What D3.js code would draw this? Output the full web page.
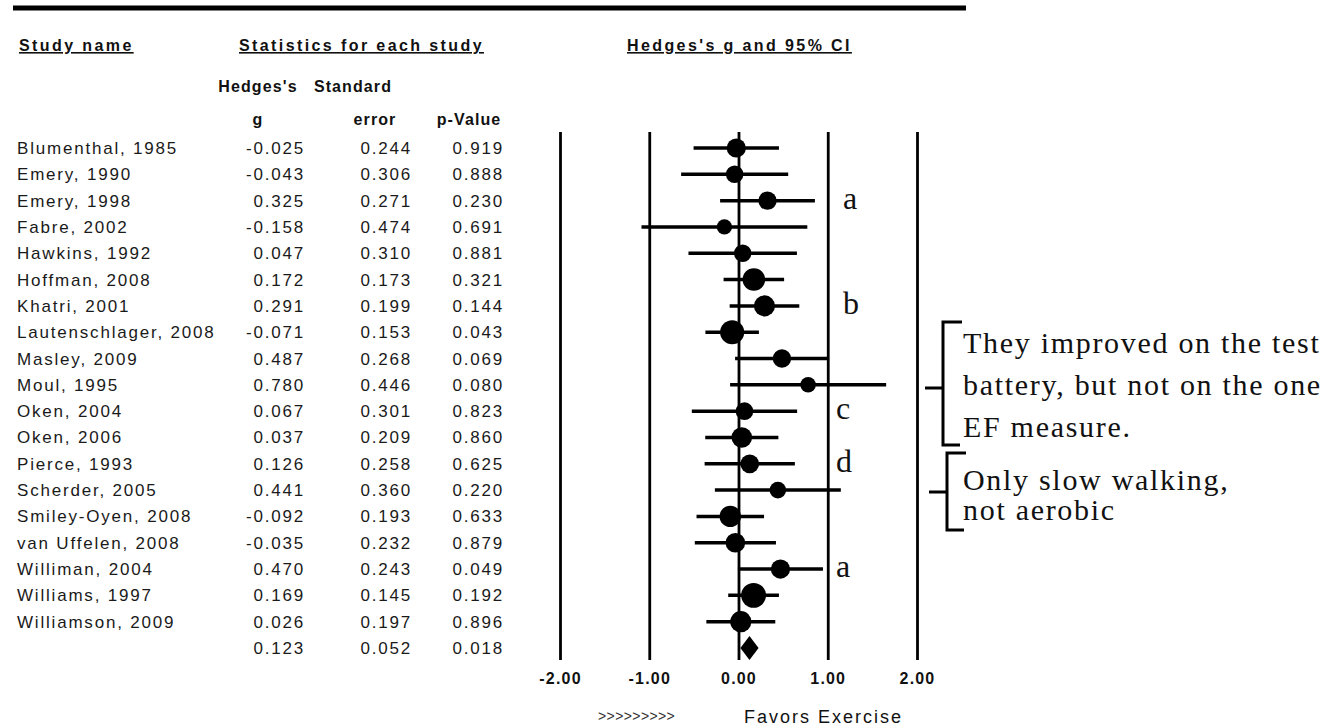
<!DOCTYPE html>
<html>
<head>
<meta charset="utf-8">
<script src="https://cdn.jsdelivr.net/npm/d3@7"></script>
<style>
  body { margin: 0; background: #fff; }
  svg { display: block; }
  .tbl { font-family: "Liberation Sans", Arial, sans-serif; font-size: 17px; fill: #1a1a1a; letter-spacing: 1.8px; }
  .hdr { font-family: "Liberation Sans", Arial, sans-serif; font-size: 16px; font-weight: bold; fill: #111; letter-spacing: 2.4px; text-decoration: underline; }
  .sub { font-family: "Liberation Sans", Arial, sans-serif; font-size: 16px; font-weight: bold; fill: #111; letter-spacing: 1.1px; }
  .note { font-family: "Liberation Serif", "Times New Roman", serif; font-size: 30px; fill: #111; letter-spacing: 1.7px; }
  .tag { font-family: "Liberation Serif", "Times New Roman", serif; font-size: 32px; fill: #111; }
</style>
</head>
<body>
<div id="chart"></div>
<script>
// study rows
var studies = ["Blumenthal, 1985", "Emery, 1990", "Emery, 1998", "Fabre, 2002", "Hawkins, 1992",
  "Hoffman, 2008", "Khatri, 2001", "Lautenschlager, 2008", "Masley, 2009", "Moul, 1995",
  "Oken, 2004", "Oken, 2006", "Pierce, 1993", "Scherder, 2005", "Smiley-Oyen, 2008",
  "van Uffelen, 2008", "Williman, 2004", "Williams, 1997", "Williamson, 2009"];
var hedgesG = [-0.025, -0.043, 0.325, -0.158, 0.047, 0.172, 0.291, -0.071, 0.487, 0.780,
  0.067, 0.037, 0.126, 0.441, -0.092, -0.035, 0.470, 0.169, 0.026];
var stdErr = [0.244, 0.306, 0.271, 0.474, 0.310, 0.173, 0.199, 0.153, 0.268, 0.446,
  0.301, 0.209, 0.258, 0.360, 0.193, 0.232, 0.243, 0.145, 0.197];
var pValue = [0.919, 0.888, 0.230, 0.691, 0.881, 0.321, 0.144, 0.043, 0.069, 0.080,
  0.823, 0.860, 0.625, 0.220, 0.633, 0.879, 0.049, 0.192, 0.896];
var summary = {g: 0.123, se: 0.052, p: 0.018};
var tickVals = [-2, -1, 0, 1, 2];
// letters written next to some rows, and the row they sit on
var tagLabels = ["a", "b", "c", "d", "a"];
var tagRows = [2, 6, 10, 12, 16];
var note1 = ["They improved on the test", "battery, but not on the one", "EF measure."];
var note2 = ["Only slow walking,", "not aerobic"];

var width = 1332, height = 728;
var svg = d3.select("#chart").append("svg")
    .attr("width", width)
    .attr("height", height);

var loc = d3.formatLocale({decimal: ".", thousands: ",", grouping: [3], currency: ["", ""], minus: "-"});
var f3 = loc.format(".3f"), f2 = loc.format(".2f");

var x = d3.scaleLinear().domain([-2, 2]).range([560, 917]);
var y = d3.scalePoint().domain(d3.range(studies.length + 1)).range([148, 648]);
var r = d3.scaleLinear().domain([2, 7]).range([7.5, 12.5]);

var plotTop = 132, plotBottom = 660;

// thick rule at the top
svg.append("line")
    .attr("x1", 13).attr("x2", 966)
    .attr("y1", 8).attr("y2", 8)
    .attr("stroke", "#000").attr("stroke-width", 5);

// column headers
svg.append("text").attr("class", "hdr").attr("x", 19).attr("y", 51).text("Study name");
svg.append("text").attr("class", "hdr").attr("x", 239).attr("y", 51).text("Statistics for each study");
svg.append("text").attr("class", "hdr").attr("x", 627).attr("y", 51).text("Hedges's g and 95% CI");

var subs = [["Hedges's", 258, 92], ["g", 258, 125], ["Standard", 353, 92], ["error", 375, 125], ["p-Value", 469, 125]];
svg.selectAll(".sub").data(subs).enter().append("text")
    .attr("class", "sub")
    .attr("text-anchor", "middle")
    .attr("x", function(d) { return d[1]; })
    .attr("y", function(d) { return d[2]; })
    .text(function(d) { return d[0]; });

// table rows
var rows = studies.map(function(s, i) {
  return {name: s, g: hedgesG[i], se: stdErr[i], p: pValue[i], i: i};
});
var allRows = rows.concat([{name: "", g: summary.g, se: summary.se, p: summary.p, i: studies.length}]);

var tr = svg.append("g").selectAll("g").data(allRows).enter().append("g")
    .attr("transform", function(d) { return "translate(0," + (y(d.i) + 6) + ")"; });
tr.append("text").attr("class", "tbl").attr("x", 17).text(function(d) { return d.name; });
tr.append("text").attr("class", "tbl").attr("x", 305).attr("text-anchor", "end").text(function(d) { return f3(d.g); });
tr.append("text").attr("class", "tbl").attr("x", 412).attr("text-anchor", "end").text(function(d) { return f3(d.se); });
tr.append("text").attr("class", "tbl").attr("x", 504).attr("text-anchor", "end").text(function(d) { return f3(d.p); });

// vertical reference lines + tick labels
var axis = d3.axisBottom(x)
    .tickValues(tickVals)
    .tickFormat(f2)
    .tickSizeInner(-(plotBottom - plotTop))
    .tickSizeOuter(0)
    .tickPadding(13);
var ax = svg.append("g")
    .attr("transform", "translate(0," + plotBottom + ")")
    .call(axis);
ax.select(".domain").remove();
ax.selectAll(".tick line").attr("stroke", "#000").attr("stroke-width", 2.8);
ax.selectAll(".tick text")
    .attr("fill", "#111")
    .style("font-family", "'Liberation Sans', Arial, sans-serif")
    .style("font-size", "16px")
    .style("font-weight", "bold")
    .style("letter-spacing", "1.2px");

// confidence intervals
var ci = svg.append("g").selectAll("g").data(rows).enter().append("g");
ci.append("line")
    .attr("x1", function(d) { return x(d.g - 1.96 * d.se); })
    .attr("x2", function(d) { return x(d.g + 1.96 * d.se); })
    .attr("y1", function(d) { return y(d.i); })
    .attr("y2", function(d) { return y(d.i); })
    .attr("stroke", "#000").attr("stroke-width", 3.5);
ci.append("circle")
    .attr("cx", function(d) { return x(d.g); })
    .attr("cy", function(d) { return y(d.i); })
    .attr("r", function(d) { return r(1 / d.se); })
    .attr("fill", "#000");

// summary diamond
var sy = y(studies.length), dh = 12;
svg.append("polygon")
    .attr("points", [
      [x(summary.g - 1.96 * summary.se), sy],
      [x(summary.g), sy - dh],
      [x(summary.g + 1.96 * summary.se), sy],
      [x(summary.g), sy + dh]
    ].map(function(p) { return p.join(","); }).join(" "))
    .attr("fill", "#000");

// axis caption
svg.append("text")
    .attr("x", 598).attr("y", 721)
    .style("font-family", "'Liberation Sans', Arial, sans-serif")
    .style("font-size", "14px")
    .style("letter-spacing", "0.4px")
    .attr("fill", "#333")
    .text(">>>>>>>>>");
svg.append("text")
    .attr("x", 744).attr("y", 723)
    .style("font-family", "'Liberation Sans', Arial, sans-serif")
    .style("font-size", "18px")
    .style("letter-spacing", "2px")
    .attr("fill", "#111")
    .text("Favors Exercise");

// letters beside rows
svg.selectAll(".tag").data(tagLabels).enter().append("text")
    .attr("class", "tag")
    .attr("x", function(d, i) { return i < 2 ? 843 : 836; })
    .attr("y", function(d, i) { return y(tagRows[i]) + 8; })
    .text(function(d) { return d; });

// brackets with notes
function bracket(x0, top, bottom, mid) {
  svg.append("path")
      .attr("d", "M" + (x0 + 19) + "," + top + "H" + x0 + "V" + bottom + "H" + (x0 + 17) +
                 "M" + (x0 - 18) + "," + mid + "H" + x0)
      .attr("fill", "none").attr("stroke", "#000").attr("stroke-width", 3);
}
bracket(943, 322, 445, 388);
bracket(947, 453, 530, 492);

svg.append("g").selectAll("text").data(note1).enter().append("text")
    .attr("class", "note")
    .attr("x", 963)
    .attr("y", function(d, i) { return 353 + i * 42; })
    .text(function(d) { return d; });
svg.append("g").selectAll("text").data(note2).enter().append("text")
    .attr("class", "note")
    .attr("x", 963)
    .attr("y", function(d, i) { return 490 + i * 30; })
    .text(function(d) { return d; });
</script>
</body>
</html>
